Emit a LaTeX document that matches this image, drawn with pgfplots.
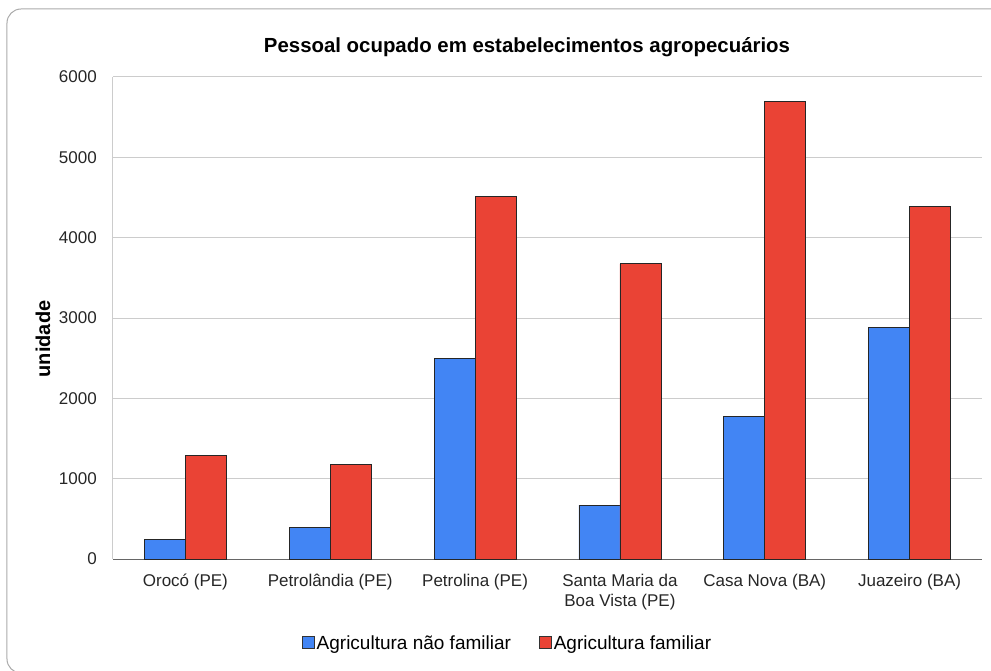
\documentclass[border=0pt]{standalone}
\usepackage{pgfplots}
\pgfplotsset{compat=1.18}
\usepackage{fontspec}
\setmainfont{Liberation Sans}
\definecolor{gblue}{HTML}{4285F4}
\definecolor{gred}{HTML}{EA4335}
\definecolor{gridc}{HTML}{CCCCCC}
\definecolor{framec}{HTML}{AAAAAA}
\begin{document}
\begin{tikzpicture}[x=1pt,y=1pt]
\begin{scope}
\clip (-113,-111) rectangle (878,559);
\draw[framec, line width=1pt, rounded corners=14pt] (-106,550) rectangle (900,-114);
\end{scope}
\begin{axis}[
  at={(0,0)}, anchor=south west,
  scale only axis, width=869pt, height=482pt,
  xmin=-0.5, xmax=5.5, ymin=0, ymax=6000,
  ybar=0pt, bar width=41pt,
  axis x line*=bottom, axis y line*=left,
  axis line style={draw=gridc, line width=1pt},
  x axis line style={draw=gray!80!black, line width=1pt},
  ytick distance=1000,
  xtick={0,1,2,3,4,5},
  xticklabels={Orocó (PE),Petrolândia (PE),Petrolina (PE),{Santa Maria da\\Boa Vista (PE)},Casa Nova (BA),Juazeiro (BA)},
  major tick length=0pt,
  ymajorgrids, grid style={draw=gridc, line width=1pt},
  tick label style={font=\fontsize{17}{20}\selectfont, text=black!85},
  /pgf/number format/assume math mode=true,
  /pgf/number format/1000 sep={},
  yticklabel style={anchor=east, inner sep=0pt, xshift=-16pt},
  xticklabel style={align=center, anchor=north, inner sep=0pt, yshift=-15pt},
  legend style={draw=none, at={(0.454,-0.174)}, anchor=center, legend columns=2,
    font=\fontsize{19}{22}\selectfont, inner sep=0pt,
    /tikz/every even column/.append style={column sep=26pt},
    nodes={inner sep=2pt}},
  legend image code/.code={\draw[#1, draw=black!80, line width=0.8pt] (0pt,-6pt) rectangle (12pt,6pt);},
]
\addplot[fill=gblue, draw=black!85, line width=0.8pt] coordinates {(0,240) (1,390) (2,2500) (3,670) (4,1770) (5,2880)};
\addplot[fill=gred, draw=black!85, line width=0.8pt] coordinates {(0,1290) (1,1180) (2,4510) (3,3675) (4,5700) (5,4390)};
\legend{Agricultura não familiar, Agricultura familiar}
\end{axis}
\node[font=\bfseries\fontsize{20.4}{24}\selectfont] at (414,512) {Pessoal ocupado em estabelecimentos agropecuários};
\node[font=\bfseries\fontsize{20}{24}\selectfont, rotate=90] at (-70,220) {unidade};
\pgfresetboundingbox
\useasboundingbox (-113,-111) rectangle (878,559);
\end{tikzpicture}
\end{document}
